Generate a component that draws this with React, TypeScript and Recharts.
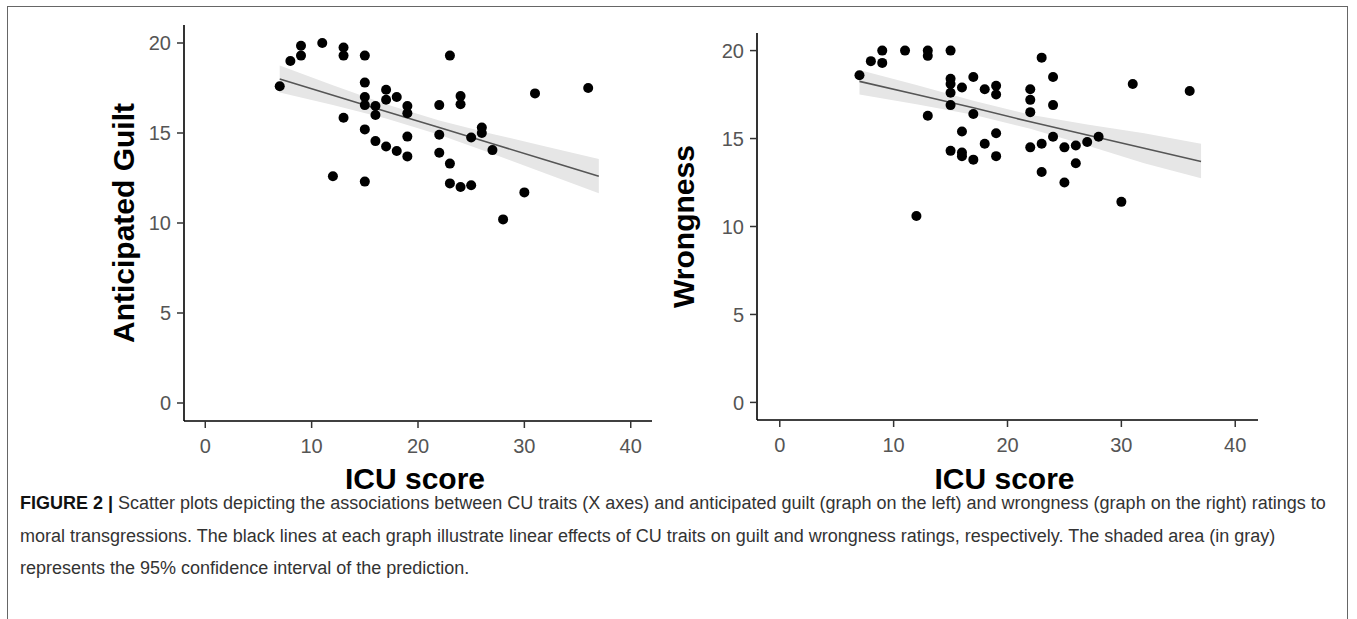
import React from 'react';
import { ComposedChart, Area, Line, Scatter, XAxis, YAxis } from 'recharts';

// ICU score vs anticipated guilt (left panel)
const guiltPoints = [
  { x: 7, y: 17.6 }, { x: 8, y: 19.0 }, { x: 9, y: 19.85 }, { x: 9, y: 19.3 },
  { x: 11, y: 20.0 }, { x: 12, y: 12.6 }, { x: 13, y: 19.75 }, { x: 13, y: 19.3 },
  { x: 13, y: 15.85 }, { x: 15, y: 19.3 }, { x: 15, y: 17.8 }, { x: 15, y: 17.0 },
  { x: 15, y: 16.55 }, { x: 15, y: 15.2 }, { x: 15, y: 12.3 }, { x: 16, y: 16.5 },
  { x: 16, y: 16.0 }, { x: 16, y: 14.55 }, { x: 17, y: 17.4 }, { x: 17, y: 16.85 },
  { x: 17, y: 14.25 }, { x: 18, y: 17.0 }, { x: 18, y: 14.0 }, { x: 19, y: 16.5 },
  { x: 19, y: 16.1 }, { x: 19, y: 14.8 }, { x: 19, y: 13.7 }, { x: 22, y: 16.55 },
  { x: 22, y: 14.9 }, { x: 22, y: 13.9 }, { x: 23, y: 19.3 }, { x: 23, y: 13.3 },
  { x: 23, y: 12.2 }, { x: 24, y: 17.05 }, { x: 24, y: 16.6 }, { x: 24, y: 12.0 },
  { x: 25, y: 14.75 }, { x: 25, y: 12.1 }, { x: 26, y: 15.3 }, { x: 26, y: 15.0 },
  { x: 27, y: 14.05 }, { x: 28, y: 10.2 }, { x: 30, y: 11.7 }, { x: 31, y: 17.2 },
  { x: 36, y: 17.5 },
];

// ICU score vs wrongness (right panel)
const wrongPoints = [
  { x: 7, y: 18.6 }, { x: 8, y: 19.4 }, { x: 9, y: 20.0 }, { x: 9, y: 19.3 },
  { x: 11, y: 20.0 }, { x: 12, y: 10.6 }, { x: 13, y: 20.0 }, { x: 13, y: 19.7 },
  { x: 13, y: 16.3 }, { x: 15, y: 20.0 }, { x: 15, y: 18.4 }, { x: 15, y: 18.1 },
  { x: 15, y: 17.6 }, { x: 15, y: 16.9 }, { x: 15, y: 14.3 }, { x: 16, y: 17.9 },
  { x: 16, y: 15.4 }, { x: 16, y: 14.2 }, { x: 16, y: 14.0 }, { x: 17, y: 18.5 },
  { x: 17, y: 16.4 }, { x: 17, y: 13.8 }, { x: 18, y: 17.8 }, { x: 18, y: 14.7 },
  { x: 19, y: 18.0 }, { x: 19, y: 17.5 }, { x: 19, y: 15.3 }, { x: 19, y: 14.0 },
  { x: 22, y: 17.8 }, { x: 22, y: 17.2 }, { x: 22, y: 16.5 }, { x: 22, y: 14.5 },
  { x: 23, y: 19.6 }, { x: 23, y: 14.7 }, { x: 23, y: 13.1 }, { x: 24, y: 18.5 },
  { x: 24, y: 16.9 }, { x: 24, y: 15.1 }, { x: 25, y: 14.5 }, { x: 25, y: 12.5 },
  { x: 26, y: 14.6 }, { x: 26, y: 13.6 }, { x: 27, y: 14.8 }, { x: 28, y: 15.1 },
  { x: 30, y: 11.4 }, { x: 31, y: 18.1 }, { x: 36, y: 17.7 },
];

// fitted line and 95% band
const fitIcu = [7, 12, 17, 22, 27, 32, 37];
const guiltFit = [18.0, 17.1, 16.2, 15.3, 14.4, 13.5, 12.6];
const guiltLow = [17.25, 16.55, 15.8, 14.9, 13.85, 12.75, 11.65];
const guiltHigh = [18.75, 17.65, 16.6, 15.7, 14.95, 14.25, 13.55];
const wrongFit = [18.25, 17.5, 16.75, 15.95, 15.2, 14.45, 13.7];
const wrongLow = [17.5, 16.95, 16.35, 15.55, 14.6, 13.6, 12.75];
const wrongHigh = [18.9, 18.05, 17.15, 16.35, 15.8, 15.3, 14.7];

const xTicks = [0, 10, 20, 30, 40];
const yTicks = [0, 5, 10, 15, 20];

const guiltRows = fitIcu.map((x, i) => ({ x, fit: guiltFit[i], band: [guiltLow[i], guiltHigh[i]] }));
const wrongRows = fitIcu.map((x, i) => ({ x, fit: wrongFit[i], band: [wrongLow[i], wrongHigh[i]] }));

const font = '"Liberation Sans", Arial, Helvetica, sans-serif';

const Dot = (props: any) => <circle cx={props.cx} cy={props.cy} r={5} fill="#000" />;

function Panel(props: any) {
  const { left, width, yAxisW, mr, mt, plotBottom, rows, points, yTitle, yTitleX } = props;
  const height = 500;
  const xAxisH = height - plotBottom;
  const plotCy = (mt + plotBottom) / 2;
  const plotCx = (yAxisW + width - mr) / 2;
  return (
    <div style={{ position: 'absolute', left, top: 0 }}>
      <ComposedChart
        width={width}
        height={height}
        data={rows}
        margin={{ top: mt, right: mr, bottom: 0, left: 0 }}
      >
        <XAxis
          type="number"
          dataKey="x"
          domain={[-2, 42]}
          ticks={xTicks}
          allowDataOverflow
          height={xAxisH}
          tickSize={7}
          tickMargin={11}
          axisLine={{ stroke: '#000', strokeWidth: 1.6 }}
          tickLine={{ stroke: '#333', strokeWidth: 1.5 }}
          tick={{ fill: '#555', fontSize: 20, fontFamily: font }}
          label={{
            content: () => (
              <text x={plotCx - 3} y={489} textAnchor="middle" fontFamily={font} fontWeight="bold" fontSize={30} fill="#000">
                ICU score
              </text>
            ),
          }}
        />
        <YAxis
          type="number"
          domain={[-1, 21]}
          ticks={yTicks}
          allowDataOverflow
          width={yAxisW}
          tickSize={7}
          tickMargin={6}
          axisLine={{ stroke: '#000', strokeWidth: 1.6 }}
          tickLine={{ stroke: '#333', strokeWidth: 1.5 }}
          tick={{ fill: '#555', fontSize: 20, fontFamily: font }}
          label={{
            content: () => (
              <text
                x={yTitleX}
                y={plotCy}
                transform={`rotate(-90 ${yTitleX} ${plotCy})`}
                textAnchor="middle"
                dominantBaseline="central"
                fontFamily={font}
                fontWeight="bold"
                fontSize={30}
                fill="#000"
              >
                {yTitle}
              </text>
            ),
          }}
        />
        <Area dataKey="band" type="linear" stroke="none" fill="#e6e6e6" fillOpacity={1} isAnimationActive={false} />
        <Line dataKey="fit" type="linear" stroke="#555" strokeWidth={1.6} dot={false} isAnimationActive={false} />
        <Scatter data={points} dataKey="y" shape={Dot} isAnimationActive={false} />
      </ComposedChart>
    </div>
  );
}

export default function App() {
  return (
    <div style={{ position: 'absolute', left: 0, top: 0, width: 1357, height: 619, background: '#fff', overflow: 'hidden' }}>
      <div
        style={{
          position: 'absolute',
          left: 7,
          top: 6,
          width: 1341,
          height: 640,
          border: '1.5px solid #666',
          boxSizing: 'border-box',
        }}
      />
      <Panel
        left={0}
        width={670}
        yAxisW={184}
        mr={18}
        mt={25}
        plotBottom={421}
        rows={guiltRows}
        points={guiltPoints}
        yTitle="Anticipated Guilt"
        yTitleX={123}
      />
      <Panel
        left={640}
        width={640}
        yAxisW={117}
        mr={22}
        mt={33}
        plotBottom={420}
        rows={wrongRows}
        points={wrongPoints}
        yTitle="Wrongness"
        yTitleX={43}
      />
      <div
        style={{
          position: 'absolute',
          left: 20,
          top: 487,
          fontFamily: font,
          fontSize: 18,
          lineHeight: '32.5px',
          color: '#333',
          whiteSpace: 'nowrap',
        }}
      >
        <div>
          <b style={{ color: '#111' }}>FIGURE 2 |</b> Scatter plots depicting the associations between CU traits (X axes) and anticipated guilt (graph on the left) and wrongness (graph on the right) ratings to
        </div>
        <div>
          moral transgressions. The black lines at each graph illustrate linear effects of CU traits on guilt and wrongness ratings, respectively. The shaded area (in gray)
        </div>
        <div>represents the 95% confidence interval of the prediction.</div>
      </div>
    </div>
  );
}
